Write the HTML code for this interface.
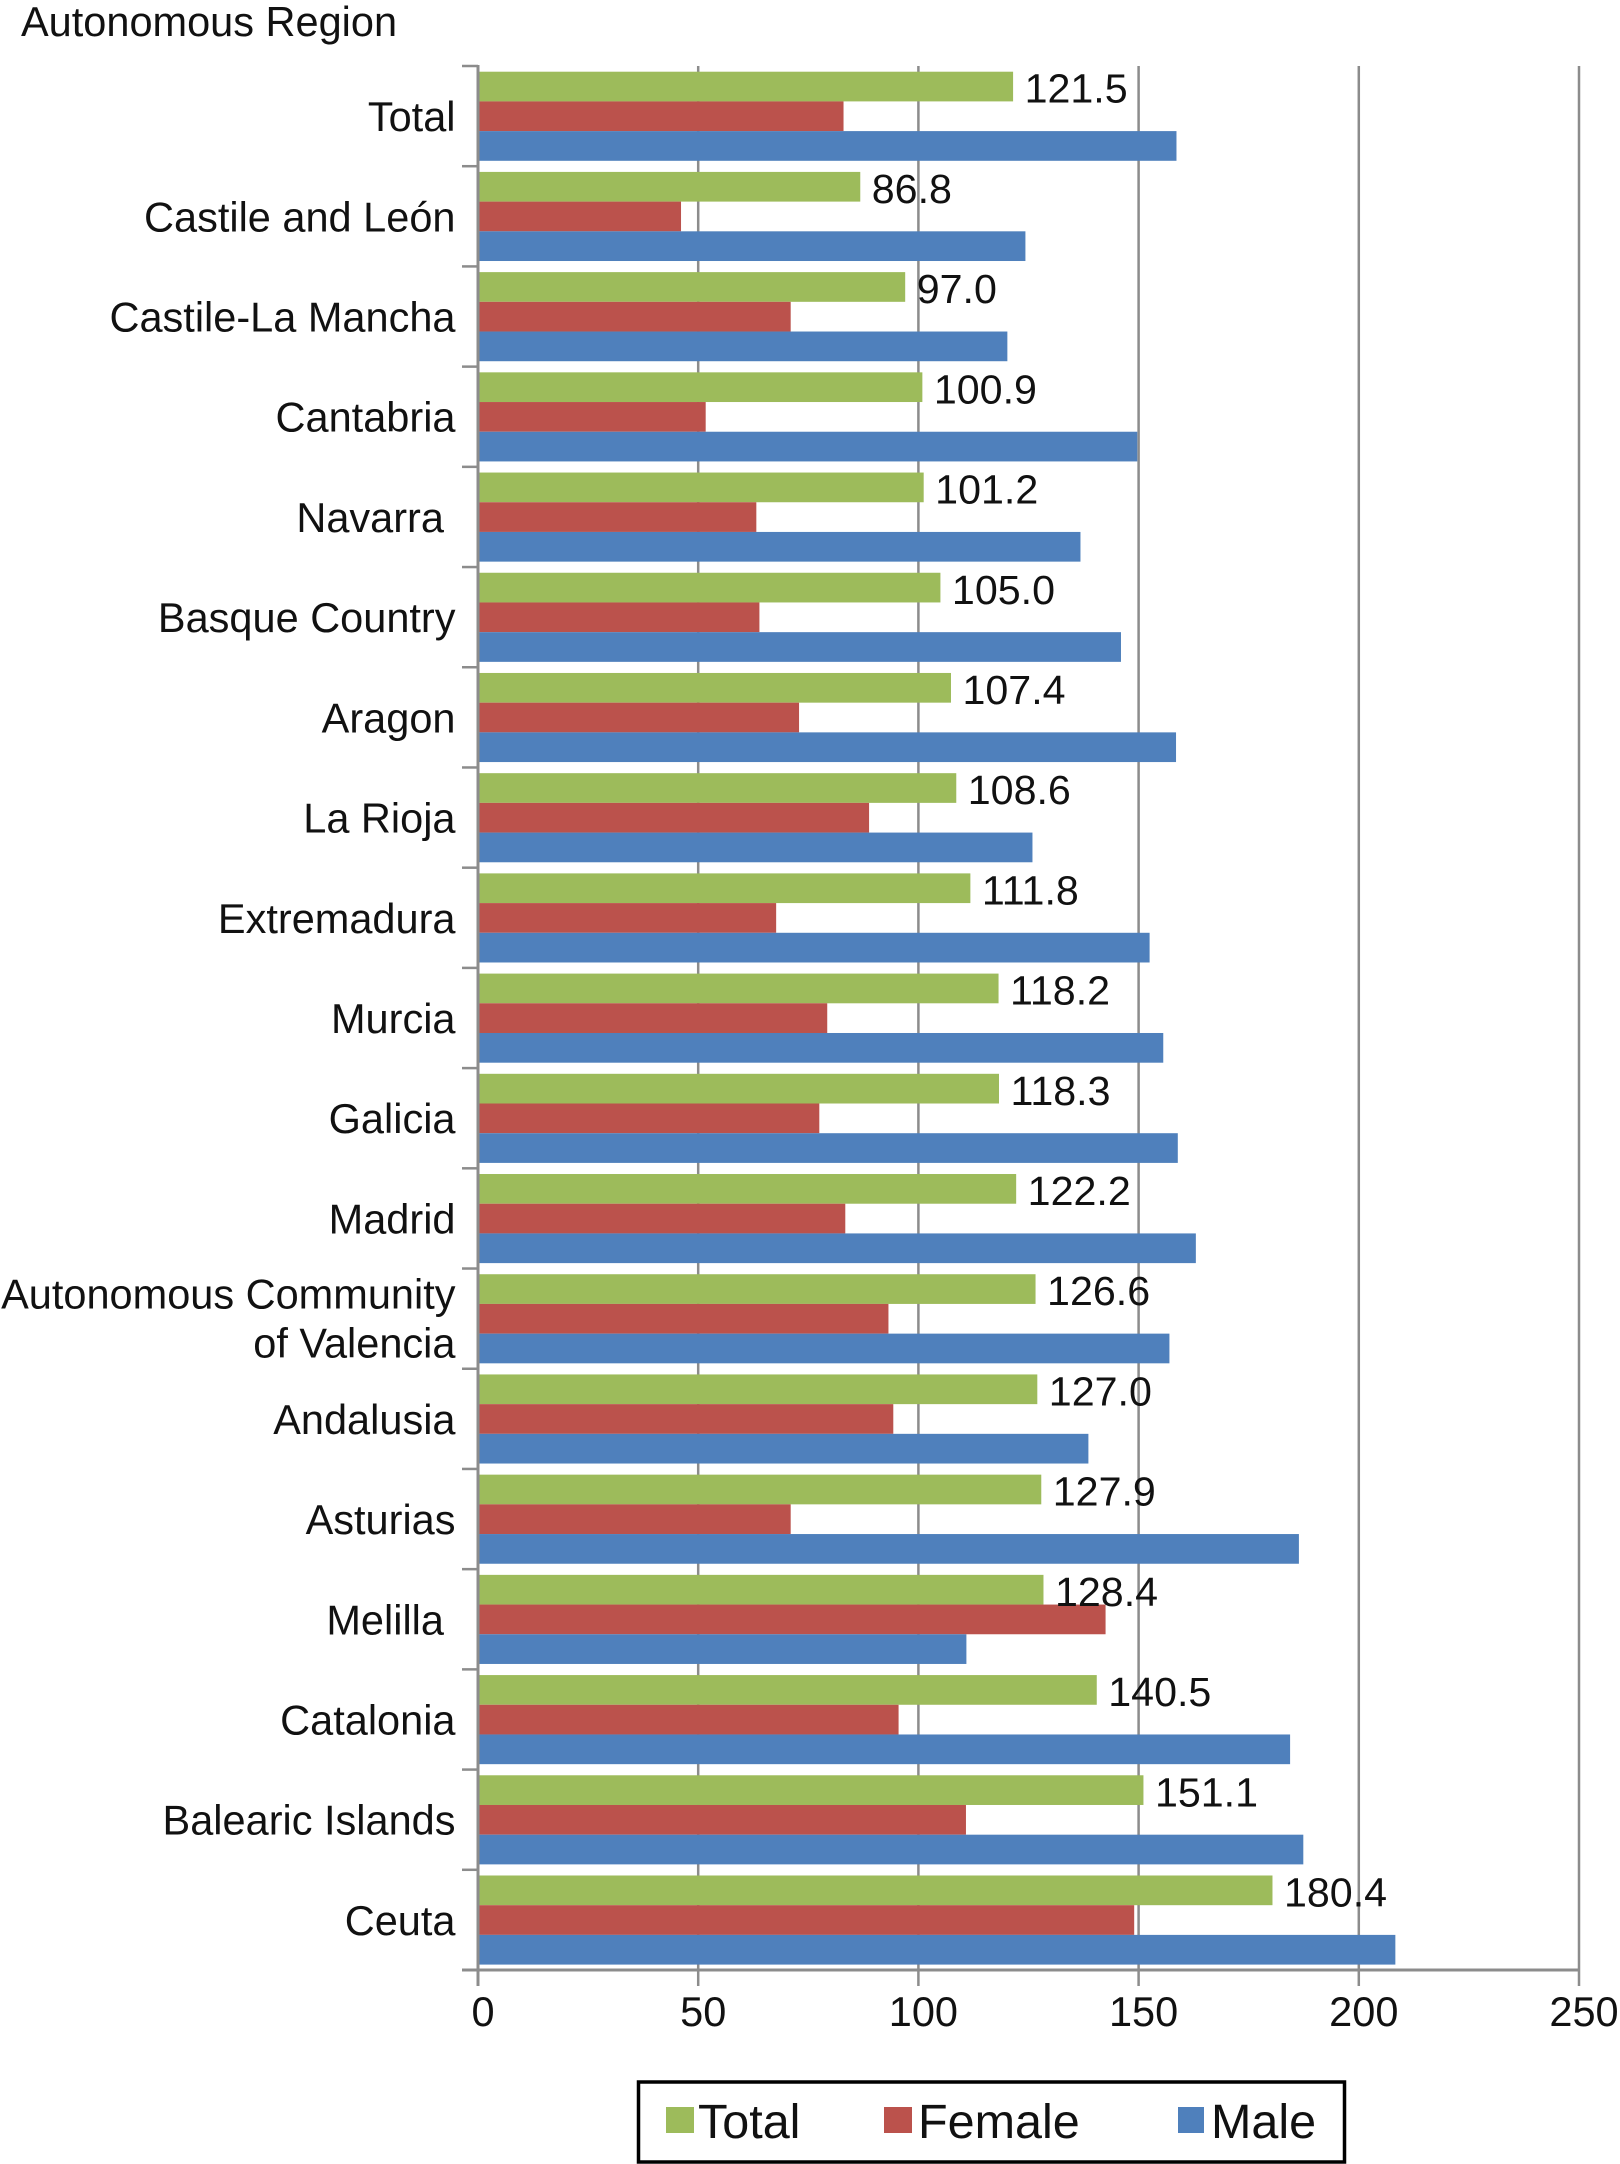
<!DOCTYPE html>
<html lang="en">
<head>
<meta charset="utf-8">
<title>Autonomous Region bar chart</title>
<style>
  html, body { margin: 0; padding: 0; background: #fff; }
  body { width: 1620px; height: 2164px; overflow: hidden; }
  svg { display: block; }
  text { font-family: "Liberation Sans", Arial, sans-serif; fill: #111; white-space: pre; }
</style>
</head>
<body>
<svg id="chart" xmlns="http://www.w3.org/2000/svg" width="1620" height="2164" viewBox="0 0 1620 2164">
  <rect x="0" y="0" width="1620" height="2164" fill="#fff"/>
  <text x="21" y="36" font-size="41.5">Autonomous Region</text>
  <g id="grid"></g>
  <g id="bars"></g>
  <g id="axes"></g>
  <g id="labels"></g>
  <g>
    <rect x="638.5" y="2082" width="706" height="80" fill="#fff" stroke="#000" stroke-width="3.5"/>
    <rect x="666" y="2107" width="28" height="26" fill="#9DBB5B"/>
    <text x="698" y="2138" font-size="48.5">Total</text>
    <rect x="884" y="2107" width="28" height="26" fill="#BB524C"/>
    <text x="918" y="2138" font-size="48.5">Female</text>
    <rect x="1178" y="2107" width="26" height="26" fill="#4F80BC"/>
    <text x="1211" y="2138" font-size="48.5">Male</text>
  </g>
</svg>
<script>
const categories = ["Total", "Castile and León", "Castile-La Mancha", "Cantabria", "Navarra ", "Basque Country", "Aragon", "La Rioja", "Extremadura", "Murcia", "Galicia", "Madrid", "Autonomous Community|of Valencia", "Andalusia", "Asturias", "Melilla ", "Catalonia", "Balearic Islands", "Ceuta"];
const totalValues = [121.5, 86.8, 97.0, 100.9, 101.2, 105.0, 107.4, 108.6, 111.8, 118.2, 118.3, 122.2, 126.6, 127.0, 127.9, 128.4, 140.5, 151.1, 180.4];
const femaleValues = [83.0, 46.1, 71.0, 51.7, 63.2, 63.9, 72.9, 88.8, 67.7, 79.3, 77.5, 83.4, 93.2, 94.3, 71.0, 142.5, 95.5, 110.8, 149.0];
const maleValues = [158.6, 124.3, 120.2, 149.7, 136.8, 146.0, 158.5, 125.9, 152.5, 155.6, 158.9, 163.0, 157.0, 138.6, 186.4, 110.9, 184.4, 187.4, 208.3];
const xTickValues = [0, 50, 100, 150, 200, 250];

const NS = "http://www.w3.org/2000/svg";
const plotLeft = 478, plotRight = 1579, plotTop = 66, plotBottom = 1970;
const xMax = 250;
const axisColor = "#8C8C8C";
const seriesColors = ["#9DBB5B", "#BB524C", "#4F80BC"];
const seriesNames = ["total", "female", "male"];
const seriesValues = [totalValues, femaleValues, maleValues];

function xScale(v) { return plotLeft + (plotRight - plotLeft) * v / xMax; }
function bandHeight() { return (plotBottom - plotTop) / categories.length; }
function bandTop(i) { return plotTop + i * bandHeight(); }
function barTop(i, s) { return bandTop(i) + 5.7 + s * 29.7; }
function slug(s) { return s.trim().toLowerCase().replace(/\|/g, " ").replace(/ó/g, "o").replace(/[^a-z0-9]+/g, "-"); }

function make(tag, parentId, props, text) {
  const el = document.createElementNS(NS, tag);
  for (const k in props) el.setAttribute(k, props[k]);
  if (text !== undefined) el.textContent = text;
  document.getElementById(parentId).appendChild(el);
  return el;
}

xTickValues.forEach(function (t) {
  const x = xScale(t);
  if (t > 0) {
    const g = make("line", "grid", { x1: x, x2: x, y1: plotTop, y2: plotBottom, stroke: axisColor, "stroke-width": 2.5 });
    
    
  }
  const tick = make("line", "axes", { x1: x, x2: x, y1: plotBottom, y2: plotBottom + 16, stroke: axisColor, "stroke-width": 2.5 });
  
  
  const lab = make("text", "labels", { x: x + 5, y: 2026, "font-size": 41.5, "text-anchor": "middle" }, String(t));
  
  
});

categories.forEach(function (cat, i) {
  seriesValues.forEach(function (vals, s) {
    const r = make("rect", "bars", { x: plotLeft, y: barTop(i, s), width: xScale(vals[i]) - plotLeft, height: 29.7, fill: seriesColors[s] });
    
    
  });

  const lab = make("text", "labels", { x: xScale(totalValues[i]) + 11.5, y: barTop(i, 0) + 31, "font-size": 41.2 }, totalValues[i].toFixed(1));
  
  

  const parts = cat.split("|");
  const centre = bandTop(i) + bandHeight() / 2;
  parts.forEach(function (p, k) {
    const base = parts.length === 1 ? centre + 15 : centre - 10 + k * 49;
    const t = make("text", "labels", { x: 455.5, y: base, "font-size": 41.5, "text-anchor": "end" }, p);
    
    
  });
});

for (let i = 0; i <= categories.length; i++) {
  const y = bandTop(i);
  const tick = make("line", "axes", { x1: plotLeft - 16, x2: plotLeft, y1: y, y2: y, stroke: axisColor, "stroke-width": 2.5 });
  
  
}

const yAxis = make("line", "axes", { x1: plotLeft, x2: plotLeft, y1: plotTop - 1, y2: plotBottom + 16, stroke: axisColor, "stroke-width": 3 });



const xAxis = make("line", "axes", { x1: plotLeft - 16, x2: plotRight + 1, y1: plotBottom, y2: plotBottom, stroke: axisColor, "stroke-width": 3 });


</script>
</body>
</html>
